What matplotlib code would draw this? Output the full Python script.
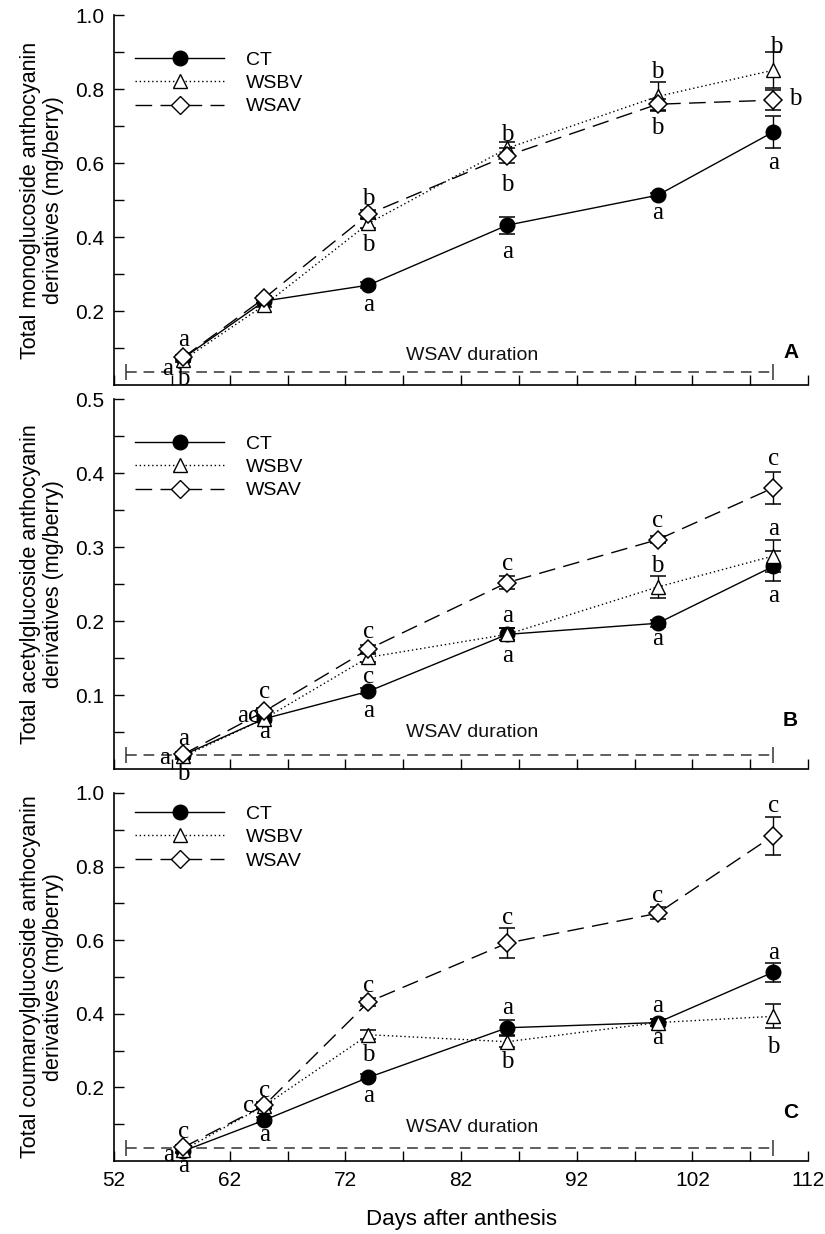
import numpy as np
import matplotlib
matplotlib.use("Agg")
import matplotlib.pyplot as plt
from matplotlib.lines import Line2D

plt.rcParams['font.family'] = ['Liberation Sans', 'DejaVu Sans']

days = [58, 65, 74, 86, 99, 109]

# panel A: monoglucoside
mono_ct = [0.073, 0.227, 0.270, 0.432, 0.513, 0.684]
mono_ct_err = [0.005, 0.005, 0.008, 0.023, 0.006, 0.043]
mono_wsbv = [0.068, 0.216, 0.437, 0.640, 0.780, 0.851]
mono_wsbv_err = [0.005, 0.006, 0.012, 0.018, 0.038, 0.048]
mono_wsav = [0.075, 0.235, 0.462, 0.620, 0.759, 0.770]
mono_wsav_err = [0.005, 0.006, 0.010, 0.020, 0.015, 0.027]

# panel B: acetylglucoside
acet_ct = [0.019, 0.068, 0.105, 0.182, 0.197, 0.274]
acet_ct_err = [0.003, 0.004, 0.004, 0.008, 0.005, 0.020]
acet_wsbv = [0.017, 0.068, 0.151, 0.182, 0.246, 0.288]
acet_wsbv_err = [0.003, 0.004, 0.006, 0.008, 0.015, 0.022]
acet_wsav = [0.020, 0.078, 0.162, 0.252, 0.310, 0.380]
acet_wsav_err = [0.003, 0.004, 0.006, 0.009, 0.005, 0.022]

# panel C: coumaroylglucoside
coum_ct = [0.027, 0.111, 0.227, 0.362, 0.376, 0.513]
coum_ct_err = [0.005, 0.008, 0.008, 0.020, 0.010, 0.026]
coum_wsbv = [0.030, 0.150, 0.343, 0.324, 0.376, 0.393]
coum_wsbv_err = [0.005, 0.008, 0.012, 0.015, 0.010, 0.033]
coum_wsav = [0.037, 0.151, 0.432, 0.592, 0.673, 0.884]
coum_wsav_err = [0.005, 0.008, 0.010, 0.040, 0.016, 0.052]

# significance letters (day, y, letter)
letters_a = [(58, 0.122, 'a'), (56.6, 0.043, 'a'), (58, 0.016, 'b'),
             (74, 0.503, 'b'), (74, 0.378, 'b'), (74, 0.216, 'a'),
             (86, 0.676, 'b'), (86, 0.541, 'b'), (86, 0.359, 'a'),
             (99, 0.846, 'b'), (99, 0.695, 'b'), (99, 0.465, 'a'),
             (109.3, 0.914, 'b'), (110.9, 0.773, 'b'), (109, 0.600, 'a')]
letters_b = [(58, 0.041, 'a'), (56.4, 0.015, 'a'), (58, -0.007, 'b'),
             (65, 0.104, 'c'), (63.6, 0.072, 'ac'), (65, 0.050, 'a'),
             (74, 0.185, 'c'), (74, 0.124, 'c'), (74, 0.078, 'a'),
             (86, 0.277, 'c'), (86, 0.207, 'a'), (86, 0.153, 'a'),
             (99, 0.335, 'c'), (99, 0.274, 'b'), (99, 0.176, 'a'),
             (109, 0.419, 'c'), (109, 0.324, 'a'), (109, 0.234, 'a')]
letters_c = [(58, 0.080, 'c'), (56.7, 0.015, 'a'), (58, -0.015, 'a'),
             (65, 0.190, 'c'), (63.6, 0.149, 'c'), (65, 0.070, 'a'),
             (74, 0.475, 'c'), (74, 0.287, 'b'), (74, 0.176, 'a'),
             (86, 0.660, 'c'), (86, 0.417, 'a'), (86, 0.268, 'b'),
             (99, 0.720, 'c'), (99, 0.420, 'a'), (99, 0.335, 'a'),
             (109, 0.965, 'c'), (109, 0.565, 'a'), (109, 0.311, 'b')]

wsav_start, wsav_end = 53, 109

panels = [
    dict(ct=mono_ct, cte=mono_ct_err, bv=mono_wsbv, bve=mono_wsbv_err,
         av=mono_wsav, ave=mono_wsav_err, letters=letters_a, ymax=1.0, step=0.2,
         ylabel='Total monoglucoside anthocyanin\nderivatives (mg/berry)',
         tag='A', dur_y=0.035, dur_text_y=0.081, tag_y=0.089, leg_y=0.903,
         rect=[0.1382, 0.6880, 0.8412, 0.2998]),
    dict(ct=acet_ct, cte=acet_ct_err, bv=acet_wsbv, bve=acet_wsbv_err,
         av=acet_wsav, ave=acet_wsav_err, letters=letters_b, ymax=0.5, step=0.1,
         ylabel='Total acetylglucoside anthocyanin\nderivatives (mg/berry)',
         tag='B', dur_y=0.019, dur_text_y=0.050, tag_y=0.132, leg_y=0.903,
         rect=[0.1382, 0.3768, 0.8412, 0.2998]),
    dict(ct=coum_ct, cte=coum_ct_err, bv=coum_wsbv, bve=coum_wsbv_err,
         av=coum_wsav, ave=coum_wsav_err, letters=letters_c, ymax=1.0, step=0.2,
         ylabel='Total coumaroylglucoside anthocyanin\nderivatives (mg/berry)',
         tag='C', dur_y=0.035, dur_text_y=0.092, tag_y=0.133, leg_y=0.967,
         rect=[0.1382, 0.0592, 0.8412, 0.2982]),
]

fig = plt.figure(figsize=(8.25, 12.34), dpi=100)

for p in panels:
    ax = fig.add_axes(p['rect'])
    ax.errorbar(days, p['ct'], yerr=p['cte'], color='black', lw=1.0,
                marker='o', ms=10.5, mfc='black', mec='black', capsize=6,
                elinewidth=1.0, capthick=1.1, zorder=3)
    ax.errorbar(days, p['bv'], yerr=p['bve'], color='black', lw=1.0,
                dashes=(1, 2), marker='^', ms=10.5, mfc='white', mec='black',
                capsize=6, elinewidth=1.0, capthick=1.1, zorder=4)
    ax.errorbar(days, p['av'], yerr=p['ave'], color='black', lw=1.0,
                dashes=(12, 6), marker='D', ms=9.5, mfc='white', mec='black',
                mew=1.1, capsize=6, elinewidth=1.0, capthick=1.1, zorder=5)

    # WSAV duration bar
    ax.plot([wsav_start, wsav_end], [p['dur_y'], p['dur_y']], color='#333333',
            lw=1.1, dashes=(7, 4.5), zorder=1)
    ax.plot([wsav_start, wsav_end], [p['dur_y'], p['dur_y']], ls='none',
            marker='|', ms=12, mew=1.1, color='#333333', zorder=1)
    ax.text(83.0, p['dur_text_y'], 'WSAV duration', fontsize=14,
            ha='center', va='center', color='#111111')
    ax.text(0.975, p['tag_y'], p['tag'], transform=ax.transAxes,
            fontsize=15, fontweight='bold', ha='center', va='center')

    for x, y, s in p['letters']:
        ax.text(x, y, s, family='Liberation Serif', fontsize=18,
                ha='center', va='center', clip_on=False, zorder=6)

    handles = [
        Line2D([], [], color='black', lw=1.0, marker='o', ms=10.5, mfc='black'),
        Line2D([], [], color='black', lw=1.0, dashes=(1, 2), marker='^',
               ms=10.5, mfc='white', mec='black'),
        Line2D([], [], color='black', lw=1.0, dashes=(12, 6), marker='D',
               ms=9.5, mfc='white', mec='black'),
    ]
    ax.legend(handles, ['CT', 'WSBV', 'WSAV'], loc='upper left',
              bbox_to_anchor=(0.03, p['leg_y']), frameon=False, fontsize=14,
              handlelength=4.6, handletextpad=1.1, labelspacing=0.3,
              borderpad=0, borderaxespad=0, numpoints=1)

    ax.set_xlim(52, 112)
    ax.set_ylim(0, p['ymax'])
    ax.set_xticks(np.arange(52, 113, 10))
    ax.set_xticks(np.arange(57, 112, 10), minor=True)
    ax.set_yticks(np.arange(p['step'], p['ymax'] + 1e-9, p['step']))
    ax.set_yticks(np.arange(p['step'] / 2, p['ymax'], p['step']), minor=True)
    ax.set_yticklabels([f'{v:.1f}' for v in np.arange(p['step'], p['ymax'] + 1e-9, p['step'])])
    ax.tick_params(which='both', direction='in', length=7, width=1.0,
                   labelsize=15, pad=7)
    for s in ['top', 'right']:
        ax.spines[s].set_visible(False)
    for s in ['left', 'bottom']:
        ax.spines[s].set_linewidth(1.2)
    ax.set_ylabel(p['ylabel'], fontsize=15.5, labelpad=8, linespacing=1.15)
    if p['tag'] != 'C':
        ax.set_xticklabels([])
    else:
        ax.set_xlabel('Days after anthesis', fontsize=16, labelpad=14)

fig.savefig('out.png', dpi=100)
